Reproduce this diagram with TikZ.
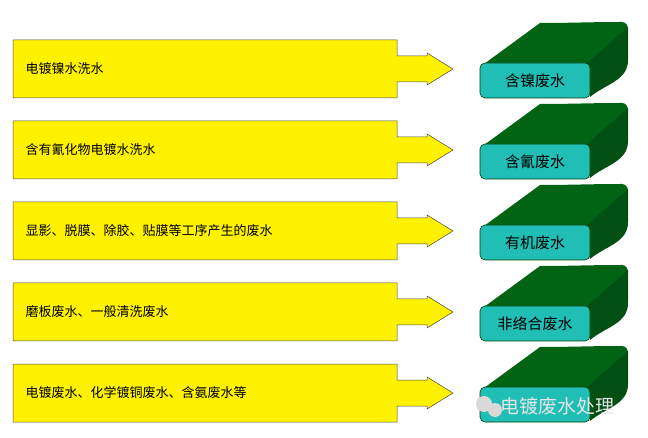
\documentclass[tikz,border=0pt]{standalone}
\usepackage{fontspec}
\setmainfont{Noto Sans CJK SC}
\definecolor{tealf}{RGB}{32,190,180}
\definecolor{gtop}{RGB}{0,100,20}
\definecolor{gside}{RGB}{0,80,20}
\begin{document}
\begin{tikzpicture}[x=1pt,y=-1pt,
  yarrow/.style={draw=black!70,fill=yellow,line width=0.5pt},
  ytext/.style={anchor=west,font=\fontsize{13}{15}\selectfont},
  gtext/.style={font=\fontsize{15}{17}\selectfont},
  topface/.style={fill=gtop,draw=none},
  sideface/.style={fill=gside,draw=none},
  frontface/.style={fill=tealf,draw=green!25!black,line width=0.6pt,rounded corners=5pt}]
\useasboundingbox (0,0) rectangle (648,438);
\foreach \i/\t/\g in {0/电镀镍水洗水/含镍废水,1/含有氰化物电镀水洗水/含氰废水,2/显影、脱膜、除胶、贴膜等工序产生的废水/有机废水,3/磨板废水、一般清洗废水/非络合废水,4/电镀废水、化学镀铜废水、含氨废水等/{}}{
  \pgfmathsetmacro{\dy}{81*\i}
  \begin{scope}[yshift=-\dy]
    \draw[yarrow] (13,40) -- (397,40) -- (397,56) -- (427,56) -- (427,53) -- (453,69) -- (427,85) -- (427,82) -- (397,82) -- (397,98) -- (13,98) -- cycle;
    \node[ytext] (y\i) at (22,69) {\t};
    \fill[topface] (484,64) -- (540,23) to[out=0,in=180] (622,22) to[out=0,in=90] (628,29) -- (590,68) -- cycle;
    \fill[sideface] (586,64) -- (628,27) -- (628,60) to[out=-90,in=40] (590,97) -- cycle;
    \draw[frontface] (480,63) rectangle (590,98);
    \node[gtext] (g\i) at (535,81) {\g};
  \end{scope}
}
\node[font=\fontsize{19}{21}\selectfont,text=white!90!black,anchor=west] (wm) at (497,406) {电镀废水处理};
\fill[white!85!black] (484,404) circle (8) (495,410) circle (7);
\end{tikzpicture}
\end{document}
